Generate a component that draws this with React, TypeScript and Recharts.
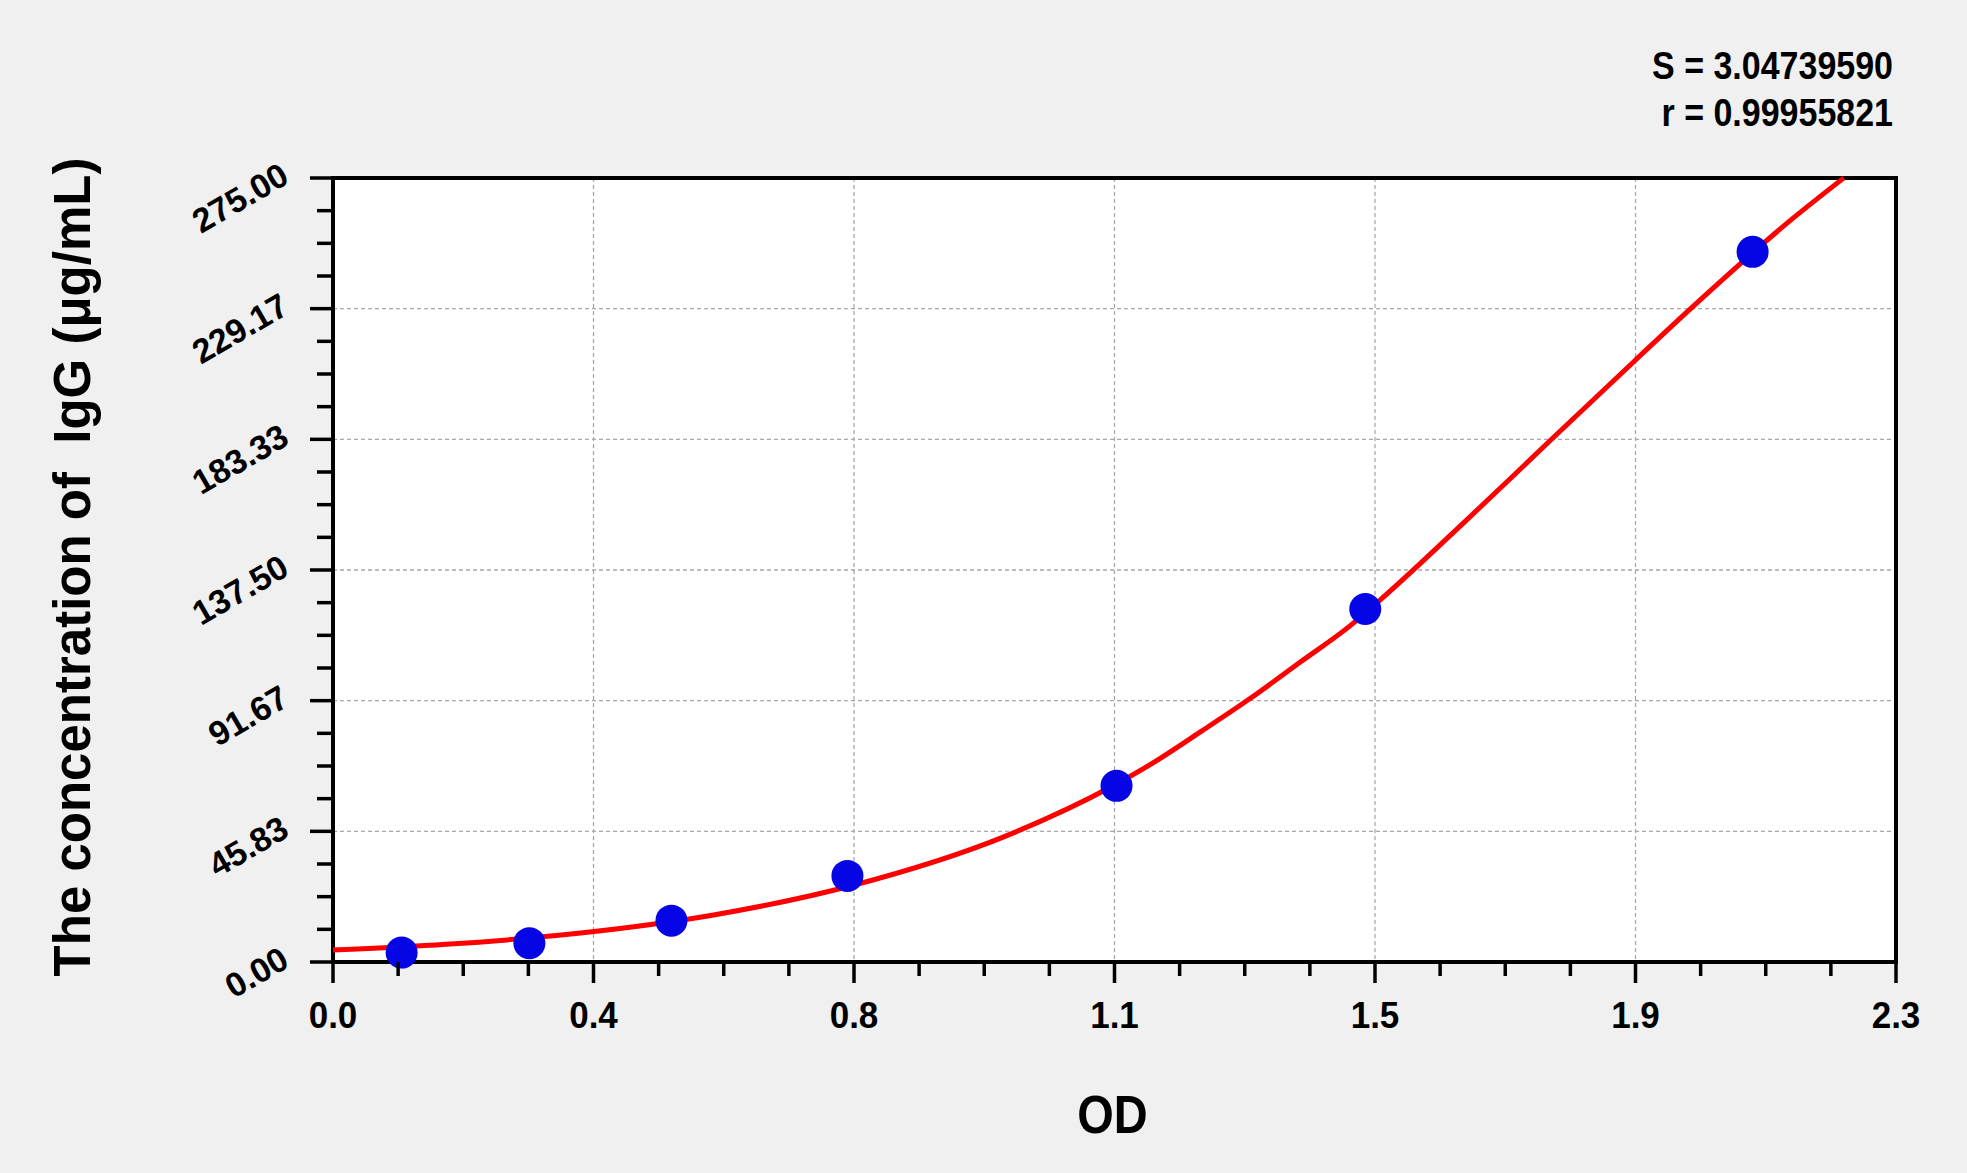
import React from 'react';
import {
  ComposedChart,
  Line,
  Scatter,
  XAxis,
  YAxis,
  CartesianGrid,
  ReferenceArea,
  Label,
} from 'recharts';

// Standard points (OD, concentration)
const pointOD = [0.101, 0.289, 0.498, 0.757, 1.153, 1.519, 2.089];
const pointConc = [3.3, 6.6, 14.5, 30.2, 61.8, 123.8, 249.1];

// Fitted curve
const curveOD = [0, 0.166, 0.381, 0.56, 0.767, 0.987, 1.148, 1.203, 1.277, 1.35, 1.424, 1.497, 1.541, 1.668, 1.785, 1.916, 1.997, 2.149, 2.223];
const curveConc = [4.2, 6.2, 10.6, 16.5, 27.0, 43.9, 61.8, 69.3, 80.8, 92.5, 105.3, 118.0, 127.0, 155.0, 181.5, 211.0, 229.0, 261.0, 275];

// Axes
const xMajor = [0, 0.38333, 0.76667, 1.15, 1.53333, 1.91667, 2.3];
const xLabels = ['0.0', '0.4', '0.8', '1.1', '1.5', '1.9', '2.3'];
const yMajor = [0, 45.8333, 91.6667, 137.5, 183.3333, 229.1667, 275];
const yLabels = ['0.00', '45.83', '91.67', '137.50', '183.33', '229.17', '275.00'];

const fitS = 'S = 3.04739590';
const fitR = 'r = 0.99955821';

const FONT = '"Liberation Sans", Arial, sans-serif';

// split each major interval into 4 for the minor ticks
const withMinor = (major: number[]) => {
  const out: number[] = [];
  major.forEach((v, i) => {
    out.push(v);
    if (i < major.length - 1) {
      const step = (major[i + 1] - v) / 4;
      for (let k = 1; k < 4; k++) out.push(v + step * k);
    }
  });
  return out;
};

const points = pointOD.map((x, i) => ({ x, y: pointConc[i] }));
const curve = curveOD.map((x, i) => ({ x, y: curveConc[i] }));

// bold text stretched a little vertically, like the original export
const TallText = ({ x, y, size, sy, anchor = 'middle', children }: any) => (
  <text
    transform={`translate(${x}, ${y}) scale(1, ${sy})`}
    textAnchor={anchor}
    fontSize={size}
    fontWeight="bold"
    fontFamily={FONT}
    fill="#000"
  >
    {children}
  </text>
);

const XTick = (props: any) => {
  const { x, y, payload } = props;
  const i = xMajor.indexOf(payload.value);
  const major = i >= 0;
  return (
    <g>
      <line x1={x} x2={x} y1={y} y2={y + (major ? 21 : 14)} stroke="#000" strokeWidth={3.5} />
      {major && (
        <TallText x={x} y={y + 66} size={35} sy={1.06}>
          {xLabels[i]}
        </TallText>
      )}
    </g>
  );
};

const YTick = (props: any) => {
  const { x, y, payload } = props;
  const i = yMajor.indexOf(payload.value);
  const major = i >= 0;
  const tx = x - 42;
  const ty = y + 4;
  return (
    <g>
      <line x1={x - (major ? 23 : 16)} x2={x} y1={y} y2={y} stroke="#000" strokeWidth={3.5} />
      {major && (
        <text
          x={tx}
          y={ty}
          transform={`rotate(-30, ${tx}, ${ty})`}
          textAnchor="end"
          fontSize={34}
          fontWeight="bold"
          fontFamily={FONT}
          fill="#000"
        >
          {yLabels[i]}
        </text>
      )}
    </g>
  );
};

const BlueDot = (props: any) => <circle cx={props.cx} cy={props.cy} r={16} fill="#0505e6" />;

const YTitle = (props: any) => {
  const vb = props.viewBox || { y: 178, height: 784 };
  const cx = 90;
  const cy = vb.y + vb.height / 2 - 3;
  return (
    <text
      x={cx}
      y={cy}
      transform={`rotate(-90, ${cx}, ${cy})`}
      textAnchor="middle"
      fontSize={51}
      fontWeight="bold"
      fontFamily={FONT}
      fill="#000"
      style={{ whiteSpace: 'pre' }}
    >
      The concentration of  IgG (μg/mL)
    </text>
  );
};

const XTitle = (props: any) => {
  const vb = props.viewBox || { x: 333, width: 1563 };
  return (
    <TallText x={vb.x + vb.width / 2 - 2} y={1133} size={47} sy={1.15}>
      OD
    </TallText>
  );
};

export default function App() {
  return (
    <div style={{ position: 'absolute', left: 0, top: 0, width: 1967, height: 1173, background: '#f0f0f0' }}>
      <ComposedChart width={1967} height={1173} margin={{ top: 178, right: 71, bottom: 0, left: 0 }}>
        <CartesianGrid
          fill="#ffffff"
          fillOpacity={1}
          stroke="#a8a8a8"
          strokeWidth={1.3}
          strokeDasharray="4 3"
          horizontalValues={yMajor}
          verticalValues={xMajor}
        />
        <XAxis
          type="number"
          dataKey="x"
          domain={[0, 2.3]}
          ticks={withMinor(xMajor)}
          interval={0}
          tick={<XTick />}
          tickLine={false}
          axisLine={false}
          tickSize={0}
          tickMargin={0}
          height={211}
        >
          <Label content={<XTitle />} />
        </XAxis>
        <YAxis
          type="number"
          dataKey="y"
          domain={[0, 275]}
          ticks={withMinor(yMajor)}
          interval={0}
          tick={<YTick />}
          tickLine={false}
          axisLine={false}
          tickSize={0}
          tickMargin={0}
          width={333}
        >
          <Label content={<YTitle />} />
        </YAxis>
        <Scatter data={points} dataKey="y" shape={<BlueDot />} isAnimationActive={false} />
        <Line
          data={curve}
          dataKey="y"
          type="monotone"
          stroke="#ff0000"
          strokeWidth={5}
          dot={false}
          activeDot={false}
          isAnimationActive={false}
        />
        <ReferenceArea x1={0} x2={2.3} y1={0} y2={275} fill="none" stroke="#000" strokeWidth={4} ifOverflow="visible" />
        <TallText x={1893} y={79} size={34} sy={1.13} anchor="end">
          {fitS}
        </TallText>
        <TallText x={1893} y={126} size={34} sy={1.13} anchor="end">
          {fitR}
        </TallText>
      </ComposedChart>
    </div>
  );
}
